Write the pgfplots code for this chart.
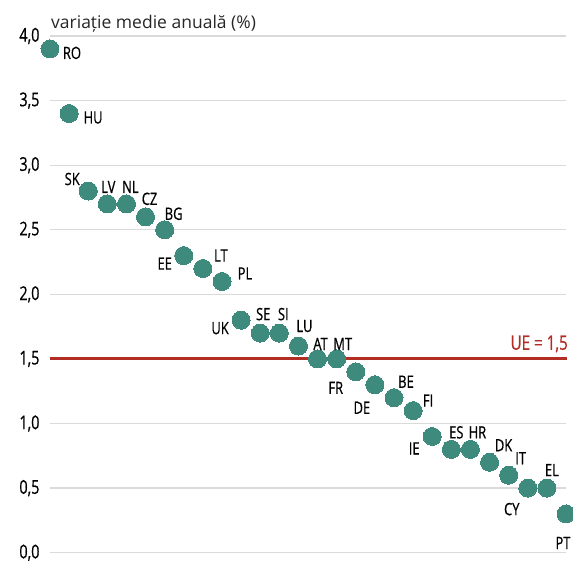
\documentclass[border=0pt]{standalone}
\usepackage{pgfplots}
\usepackage{pgfplotstable}
\usepackage{fontspec}
\pgfplotsset{compat=1.18}
\setmainfont{Open Sans}
\newfontfamily\cond[FakeStretch=0.76, FakeBold=0.6]{Open Sans}
\definecolor{teal}{RGB}{62,138,124}
\definecolor{uered}{RGB}{178,45,35}
\definecolor{gridgray}{RGB}{218,218,218}

\pgfplotstableread{
x y lab dx dy
0 3.9 RO 22 -4
1 3.4 HU 24 -4
2 2.8 SK -16 12
3 2.7 LV 1 17
4 2.7 NL 4 17
5 2.6 CZ 4 18
6 2.5 BG 9 16
7 2.3 EE -19 -8
8 2.2 LT 18 13
9 2.1 PL 23 8
10 1.8 UK -21 -8
11 1.7 SE 3 19
12 1.7 SI 4 19
13 1.6 LU 6 20
14 1.5 AT 3 15
15 1.5 MT 6 15
16 1.4 FR -20 -16
17 1.3 DE -13 -23
18 1.2 BE 12 16
19 1.1 FI 15 10
20 0.9 IE -18 -12
21 0.8 ES 5 17
22 0.8 HR 7 17
23 0.7 DK 14 17
24 0.6 IT 12 17
25 0.5 CY -16 -21
26 0.5 EL 5 18
27 0.3 PT -3 -29
}\datatable

\begin{document}
\begin{tikzpicture}
\path[use as bounding box] (-50pt,-10.3pt) rectangle (523pt,552.7pt);
\begin{axis}[
  at={(0,0)}, anchor=south west,
  scale only axis,
  width=516pt, height=516.7pt,
  xmin=0, xmax=27, ymin=0, ymax=4,
  clip=false,
  axis line style={draw=none},
  tick style={draw=none},
  xtick=\empty,
  ytick={0,0.5,...,4},
  ymajorgrids,
  grid style={gridgray, line width=1.3pt},
  /pgf/number format/assume math mode=true,
  /pgf/number format/use comma,
  /pgf/number format/fixed,
  /pgf/number format/fixed zerofill,
  /pgf/number format/precision=1,
  yticklabel style={font=\fontsize{19}{22}\selectfont\cond, anchor=east, xshift=-7pt},
]
\addplot[uered, line width=3pt] coordinates {(0,1.5) (27.05,1.5)};
\addplot[
  teal,
  only marks,
  mark=*,
  mark size=9pt,
  mark options={draw=teal, fill=teal, line width=0pt},
  point meta=explicit symbolic,
  visualization depends on={\thisrow{dx}\as\dx},
  visualization depends on={\thisrow{dy}\as\dy},
  nodes near coords,
  every node near coord/.append style={anchor=center, xshift=\dx pt, yshift=\dy pt, font=\fontsize{17}{19}\selectfont\cond, text=black, inner sep=0pt},
] table[x=x, y=y, meta=lab] {\datatable};
\node[anchor=east, text=uered, font=\fontsize{20}{22}\selectfont\cond, inner sep=0pt] at (axis cs:27,1.5) [xshift=2pt, yshift=15pt] {UE = 1,5};
\node[anchor=base west, font=\fontsize{17.5}{20}\selectfont, text=black!85, inner sep=0pt] at (rel axis cs:0,1) [xshift=1pt, yshift=7pt] {variație medie anuală (\%)};
\end{axis}
\end{tikzpicture}
\end{document}
